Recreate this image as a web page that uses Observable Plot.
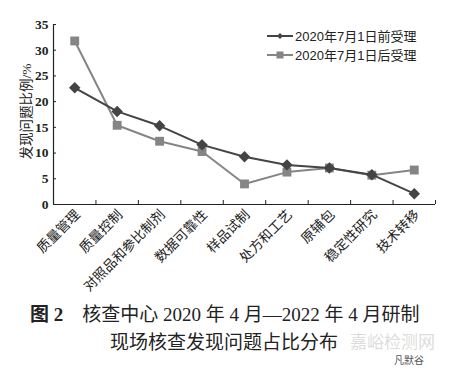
<!DOCTYPE html>
<html>
<head>
<meta charset="utf-8">
<script src="https://cdn.jsdelivr.net/npm/d3@7"></script>
<script src="https://cdn.jsdelivr.net/npm/@observablehq/plot@0.6"></script>
<style>
  body { margin: 0; background: #fff; }
  #wrap { position: relative; width: 450px; height: 369px; overflow: hidden; }
  #chart svg { overflow: visible; }
  #legend { position: absolute; left: 266px; top: 26px; font-family: "Liberation Sans", Arial, "Noto Sans CJK SC", sans-serif; font-size: 13px; color: #222; }
  #legend .row { display: flex; align-items: center; height: 19px; }
  #legend svg { margin-right: 1px; }
  #caption { position: absolute; left: 0; top: 301px; width: 450px; font-family: "Liberation Serif", "Noto Sans CJK SC", serif; font-size: 19px; color: #222; line-height: 28px; }
  #caption .l1 { padding-left: 30px; white-space: nowrap; }
  #caption .l2 { padding-left: 110px; white-space: nowrap; }
  #wm { position: absolute; left: 350px; top: 332px; font-family: "Noto Sans CJK SC", sans-serif; font-size: 17px; line-height: 18px; color: rgba(175,175,175,0.45); }
  #wm2 { position: absolute; left: 394px; top: 354px; font-family: "Noto Sans CJK SC", sans-serif; font-size: 10px; line-height: 12px; color: #555; }
</style>
</head>
<body>
<div id="wrap">
  <div id="chart"></div>
  <div id="legend"></div>
  <div id="caption">
    <div class="l1"><b>图 2</b>&nbsp;&nbsp;&nbsp;&nbsp;核查中心 2020 年 4 月—2022 年 4 月研制</div>
    <div class="l2">现场核查发现问题占比分布</div>
  </div>
  <div id="wm">嘉峪检测网</div>
  <div id="wm2">凡默谷</div>
</div>
<script>
const categories = ["质量管理", "质量控制", "对照品和参比制剂", "数据可靠性", "样品试制", "处方和工艺", "原辅包", "稳定性研究", "技术转移"];
const before = [22.7, 18.1, 15.3, 11.6, 9.3, 7.7, 7.1, 5.8, 2.1];
const after = [31.8, 15.4, 12.3, 10.3, 4.0, 6.3, 7.1, 5.7, 6.7];
const seriesNames = ["2020年7月1日前受理", "2020年7月1日后受理"];
const yTicks = [0, 5, 10, 15, 20, 25, 30, 35];

const c1 = "#444444", c2 = "#858585";
const boundaries = categories.map((d, i) => i + 0.5);
const rowsB = before.map((v, i) => ({i, v}));
const rowsA = after.map((v, i) => ({i, v}));

const serif = "'Liberation Serif', 'Noto Sans CJK SC', serif";

const chart = Plot.plot({
  width: 450,
  height: 298,
  marginLeft: 53,
  marginRight: 15,
  marginTop: 24,
  marginBottom: 94,
  x: {type: "linear", domain: [-0.5, categories.length - 0.5], axis: null},
  y: {domain: [0, 35], axis: null},
  style: {fontFamily: serif, background: "transparent"},
  marks: [
    Plot.axisY({ticks: yTicks, tickSize: 0, tickPadding: 5, fontSize: 13.5, fontWeight: "bold", fontFamily: serif, fill: "#222", label: null}),
    Plot.ruleY(yTicks, {y: d => d, x1: -0.5, x2: -0.5, insetRight: -3, stroke: "#222"}),
    Plot.ruleX([-0.5], {x: d => d, y1: 0, y2: 35, stroke: "#222", strokeWidth: 1.2}),
    Plot.ruleY([0], {y: d => d, x1: -0.5, x2: categories.length - 0.5, stroke: "#222", strokeWidth: 1.2}),
    Plot.ruleX(boundaries, {x: d => d, y1: 0, y2: 0, insetBottom: 4, stroke: "#222"}),
    Plot.text(categories, {x: (d, i) => i, y: 0, text: d => d, rotate: -45, textAnchor: "end", dx: 3, dy: 8, fontSize: 13.5, fontFamily: serif, fill: "#222"}),
    Plot.text(["发现问题比例/%"], {x: -0.5, y: 17.5, text: d => d, rotate: -90, dx: -27, dy: -3, fontSize: 13.5, fontFamily: serif, fill: "#222"}),
    Plot.line(rowsA, {x: "i", y: "v", stroke: c2, strokeWidth: 2}),
    Plot.dot(rowsA, {x: "i", y: "v", symbol: "square", r: 5, fill: c2, stroke: "none"}),
    Plot.line(rowsB, {x: "i", y: "v", stroke: c1, strokeWidth: 2}),
    Plot.dot(rowsB, {x: "i", y: "v", symbol: "diamond2", r: 4.2, fill: c1, stroke: c1})
  ]
});
document.getElementById("chart").appendChild(chart);

const legend = document.getElementById("legend");
const keys = [{color: c1, shape: "diamond"}, {color: c2, shape: "square"}];
seriesNames.forEach((name, k) => {
  const row = document.createElement("div");
  row.className = "row";
  const ns = "http://www.w3.org/2000/svg";
  const svg = document.createElementNS(ns, "svg");
  svg.setAttribute("width", 28); svg.setAttribute("height", 12);
  const ln = document.createElementNS(ns, "line");
  ln.setAttribute("x1", 1); ln.setAttribute("x2", 27); ln.setAttribute("y1", 6); ln.setAttribute("y2", 6);
  ln.setAttribute("stroke", keys[k].color); ln.setAttribute("stroke-width", 2);
  svg.appendChild(ln);
  if (keys[k].shape === "square") {
    const r = document.createElementNS(ns, "rect");
    r.setAttribute("x", 10.5); r.setAttribute("y", 2.5); r.setAttribute("width", 7); r.setAttribute("height", 7);
    r.setAttribute("fill", keys[k].color);
    svg.appendChild(r);
  } else {
    const p = document.createElementNS(ns, "path");
    p.setAttribute("d", "M14,3 L17,6 L14,9 L11,6 Z");
    p.setAttribute("fill", keys[k].color);
    svg.appendChild(p);
  }
  row.appendChild(svg);
  const t = document.createElement("span");
  t.textContent = name;
  row.appendChild(t);
  legend.appendChild(row);
});
</script>
</body>
</html>
